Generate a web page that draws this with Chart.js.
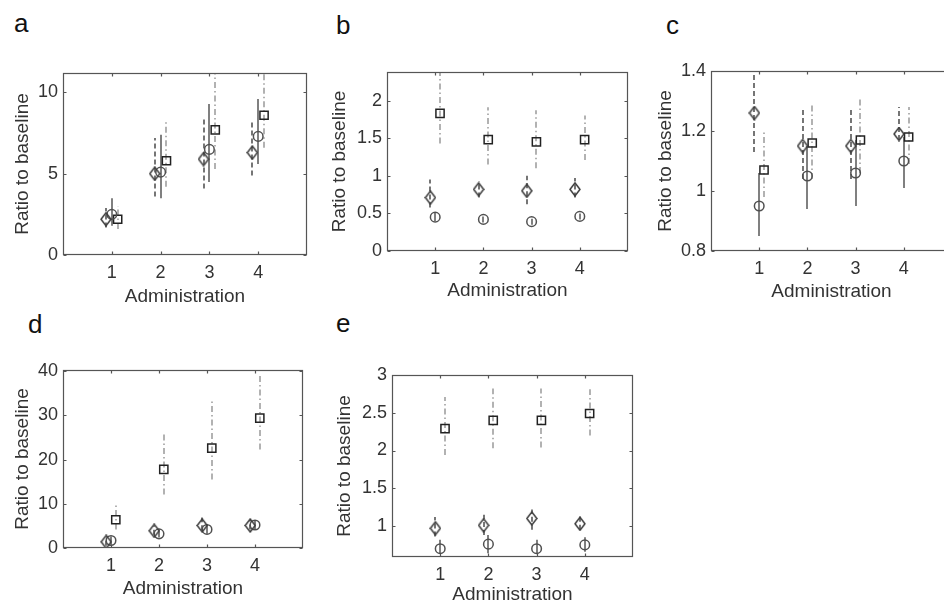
<!DOCTYPE html>
<html>
<head>
<meta charset="utf-8">
<script src="https://cdn.jsdelivr.net/npm/chart.js@4"></script>
<style>
  body { margin: 0; width: 944px; height: 604px; overflow: hidden; background: #fff; position: relative; font-family: "Liberation Sans", Arial, sans-serif; }
  canvas { position: absolute; }
  .lbl { position: absolute; font-size: 26px; line-height: 26px; color: #111; }
</style>
</head>
<body>
<div class="lbl" style="left:14px;top:10px">a</div>
<div class="lbl" style="left:336px;top:12px">b</div>
<div class="lbl" style="left:666px;top:12px">c</div>
<div class="lbl" style="left:28px;top:311px">d</div>
<div class="lbl" style="left:336px;top:310px">e</div>
<canvas id="pa"></canvas>
<canvas id="pb"></canvas>
<canvas id="pc"></canvas>
<canvas id="pd"></canvas>
<canvas id="pe"></canvas>
<script>
const administrations = [1, 2, 3, 4];

// panel a
const aTicks = [0, 5, 10];
const aDiamond = [2.2, 5.0, 5.9, 6.3];
const aDiamondLow = [1.7, 3.6, 4.1, 4.9];
const aDiamondHigh = [2.9, 7.2, 8.4, 8.2];
const aCircle = [2.5, 5.1, 6.5, 7.3];
const aCircleLow = [1.8, 3.5, 4.5, 5.6];
const aCircleHigh = [3.5, 7.4, 9.3, 9.6];
const aSquare = [2.2, 5.8, 7.7, 8.6];
const aSquareLow = [1.6, 4.2, 5.3, 6.6];
const aSquareHigh = [3.0, 8.3, 11.5, 11.5];

// panel b
const bTicks = [0, 0.5, 1, 1.5, 2];
const bDiamond = [0.71, 0.82, 0.8, 0.82];
const bDiamondLow = [0.58, 0.71, 0.62, 0.71];
const bDiamondHigh = [0.95, 0.93, 1.0, 0.97];
const bCircle = [0.45, 0.42, 0.39, 0.46];
const bCircleLow = [0.4, 0.38, 0.35, 0.42];
const bCircleHigh = [0.52, 0.46, 0.43, 0.5];
const bSquare = [1.83, 1.48, 1.45, 1.48];
const bSquareLow = [1.43, 1.15, 1.1, 1.21];
const bSquareHigh = [2.4, 1.91, 1.87, 1.8];

// panel c
const cTicks = [0.8, 1, 1.2, 1.4];
const cDiamond = [1.26, 1.15, 1.15, 1.19];
const cDiamondLow = [1.13, 1.04, 1.04, 1.17];
const cDiamondHigh = [1.42, 1.28, 1.28, 1.28];
const cCircle = [0.95, 1.05, 1.06, 1.1];
const cCircleLow = [0.85, 0.94, 0.95, 1.01];
const cCircleHigh = [1.06, 1.15, 1.17, 1.18];
const cSquare = [1.07, 1.16, 1.17, 1.18];
const cSquareLow = [0.98, 1.04, 1.06, 1.09];
const cSquareHigh = [1.2, 1.29, 1.31, 1.28];

// panel d
const dTicks = [0, 10, 20, 30, 40];
const dDiamond = [1.4, 3.9, 5.1, 5.1];
const dDiamondLow = [0.5, 3.0, 4.0, 4.2];
const dDiamondHigh = [2.4, 5.0, 6.9, 6.3];
const dCircle = [1.7, 3.2, 4.2, 5.2];
const dCircleLow = [0.8, 2.4, 3.2, 4.3];
const dCircleHigh = [2.6, 4.2, 5.3, 6.2];
const dSquare = [6.4, 17.8, 22.6, 29.4];
const dSquareLow = [4.2, 12.1, 15.5, 22.3];
const dSquareHigh = [9.8, 25.7, 33.2, 39.0];

// panel e
const eTicks = [1, 1.5, 2, 2.5, 3];
const eDiamond = [0.97, 1.01, 1.1, 1.03];
const eDiamondLow = [0.86, 0.88, 0.95, 0.95];
const eDiamondHigh = [1.12, 1.15, 1.22, 1.12];
const eCircle = [0.7, 0.76, 0.7, 0.75];
const eCircleLow = [0.64, 0.64, 0.63, 0.66];
const eCircleHigh = [0.82, 0.88, 0.82, 0.85];
const eSquare = [2.29, 2.4, 2.4, 2.49];
const eSquareLow = [1.94, 2.03, 2.04, 2.2];
const eSquareHigh = [2.71, 2.82, 2.82, 2.81];

const FONT = '"Liberation Sans", Arial, sans-serif';
const PAD_TOP = 24;
const PAD_RIGHT = 10;

// MATLAB-style diamond is a bit taller than wide
function diamondMarker() {
  const c = document.createElement("canvas");
  c.width = 12;
  c.height = 15;
  const ctx = c.getContext("2d");
  ctx.strokeStyle = "#3c3c3c";
  ctx.lineWidth = 1.5;
  ctx.beginPath();
  ctx.moveTo(6, 1);
  ctx.lineTo(11, 7.5);
  ctx.lineTo(6, 14);
  ctx.lineTo(1, 7.5);
  ctx.closePath();
  ctx.stroke();
  return c;
}
const diamondImg = diamondMarker();

const errorBars = {
  id: "errorBars",
  beforeDatasetsDraw(chart) {
    const { ctx, chartArea } = chart;
    const xs = chart.scales.x;
    const ys = chart.scales.y;
    ctx.save();
    ctx.beginPath();
    ctx.rect(chartArea.left, chartArea.top, chartArea.right - chartArea.left, chartArea.bottom - chartArea.top);
    ctx.clip();
    chart.data.datasets.forEach((ds) => {
      ctx.strokeStyle = ds.errColor;
      ctx.lineWidth = 1.7;
      ctx.setLineDash(ds.errDash);
      ds.data.forEach((p, i) => {
        const px = Math.round(xs.getPixelForValue(p.x));
        ctx.beginPath();
        ctx.moveTo(px, ys.getPixelForValue(ds.lows[i]));
        ctx.lineTo(px, ys.getPixelForValue(ds.highs[i]));
        ctx.stroke();
      });
    });
    ctx.restore();
  },
};

const frame = {
  id: "frame",
  afterDraw(chart) {
    const { ctx, chartArea: a } = chart;
    const xs = chart.scales.x;
    const ys = chart.scales.y;
    const l = Math.round(a.left) + 0.5, r = Math.round(a.right) - 0.5;
    const t = Math.round(a.top) + 0.5, b = Math.round(a.bottom) - 0.5;
    ctx.save();
    ctx.strokeStyle = "#555";
    ctx.lineWidth = 1.2;
    ctx.strokeRect(l, t, r - l, b - t);
    ctx.beginPath();
    xs.ticks.forEach((tk) => {
      const px = Math.round(xs.getPixelForValue(tk.value)) + 0.5;
      ctx.moveTo(px, b); ctx.lineTo(px, b - 3);
      ctx.moveTo(px, t); ctx.lineTo(px, t + 3);
    });
    ys.ticks.forEach((tk) => {
      const py = Math.round(ys.getPixelForValue(tk.value)) + 0.5;
      ctx.moveTo(l, py); ctx.lineTo(l + 3, py);
      ctx.moveTo(r, py); ctx.lineTo(r - 3, py);
    });
    ctx.stroke();
    ctx.restore();
  },
};

function makePanel(id, box, yRange, yTicks, dodge, series) {
  const canvas = document.getElementById(id);
  const w = box.yw + (box.R - box.L) + PAD_RIGHT;
  const h = PAD_TOP + (box.B - box.T) + box.xh;
  canvas.width = w;
  canvas.height = h;
  canvas.style.left = box.L - box.yw + "px";
  canvas.style.top = box.T - PAD_TOP + "px";

  const styles = [
    { img: diamondImg, off: -dodge, color: "#5e5e5e", dash: [5, 3] },
    { img: "circle", off: 0, color: "#6a6a6a", dash: [] },
    { img: "rect", off: dodge, color: "#a5a5a5", dash: [6, 3, 1.5, 3] },
  ];

  const datasets = series.map((s, k) => {
    const st = styles[k];
    return {
      data: administrations.map((adm, i) => ({ x: adm + st.off, y: s.mid[i] })),
      lows: s.low,
      highs: s.high,
      errColor: st.color,
      errDash: st.dash,
      pointStyle: st.img,
      pointRadius: st.img === "rect" ? 5.8 : 4.8,
      borderColor: st.img === "rect" ? "#222" : "#505050",
      backgroundColor: "rgba(255,255,255,0)",
      borderWidth: 1.5,
    };
  });

  new Chart(canvas, {
    type: "scatter",
    data: { datasets },
    options: {
      responsive: false,
      animation: false,
      devicePixelRatio: 1,
      layout: { padding: { top: PAD_TOP, right: PAD_RIGHT, left: 0, bottom: 0 } },
      plugins: { legend: { display: false }, tooltip: { enabled: false } },
      scales: {
        x: {
          min: 0,
          max: 5,
          grid: { display: false, drawTicks: false },
          border: { display: false },
          afterBuildTicks: (s) => { s.ticks = administrations.map((v) => ({ value: v })); },
          afterFit: (s) => { s.height = box.xh; },
          ticks: { padding: 7, color: "#333", font: { family: FONT, size: 18 }, callback: (v) => String(v) },
          title: { display: true, text: "Administration", color: "#333", padding: 0, font: { family: FONT, size: 19 } },
        },
        y: {
          min: yRange[0],
          max: yRange[1],
          grid: { display: false, drawTicks: false },
          border: { display: false },
          afterBuildTicks: (s) => { s.ticks = yTicks.map((v) => ({ value: v })); },
          afterFit: (s) => { s.width = box.yw; },
          ticks: { padding: 5, color: "#333", font: { family: FONT, size: 18 }, callback: (v) => String(v) },
          title: { display: true, text: "Ratio to baseline", color: "#333", padding: 0, font: { family: FONT, size: 19 } },
        },
      },
    },
    plugins: [errorBars, frame],
  });
}

makePanel("pa", { L: 63, R: 307, T: 73, B: 255, yw: 52, xh: 53 }, [0, 11.2], aTicks, 0.12, [
  { mid: aDiamond, low: aDiamondLow, high: aDiamondHigh },
  { mid: aCircle, low: aCircleLow, high: aCircleHigh },
  { mid: aSquare, low: aSquareLow, high: aSquareHigh },
]);
makePanel("pb", { L: 387, R: 628, T: 72, B: 251, yw: 59, xh: 51 }, [0, 2.38], bTicks, 0.1, [
  { mid: bDiamond, low: bDiamondLow, high: bDiamondHigh },
  { mid: bCircle, low: bCircleLow, high: bCircleHigh },
  { mid: bSquare, low: bSquareLow, high: bSquareHigh },
]);
makePanel("pc", { L: 711, R: 952, T: 71, B: 251, yw: 57, xh: 52 }, [0.8, 1.4], cTicks, 0.1, [
  { mid: cDiamond, low: cDiamondLow, high: cDiamondHigh },
  { mid: cCircle, low: cCircleLow, high: cCircleHigh },
  { mid: cSquare, low: cSquareLow, high: cSquareHigh },
]);
makePanel("pd", { L: 63, R: 303, T: 370, B: 548, yw: 52, xh: 52 }, [0, 40.3], dTicks, 0.1, [
  { mid: dDiamond, low: dDiamondLow, high: dDiamondHigh },
  { mid: dCircle, low: dCircleLow, high: dCircleHigh },
  { mid: dSquare, low: dSquareLow, high: dSquareHigh },
]);
makePanel("pe", { L: 392, R: 633, T: 375, B: 557, yw: 59, xh: 49 }, [0.59, 3], eTicks, 0.1, [
  { mid: eDiamond, low: eDiamondLow, high: eDiamondHigh },
  { mid: eCircle, low: eCircleLow, high: eCircleHigh },
  { mid: eSquare, low: eSquareLow, high: eSquareHigh },
]);
</script>
</body>
</html>
